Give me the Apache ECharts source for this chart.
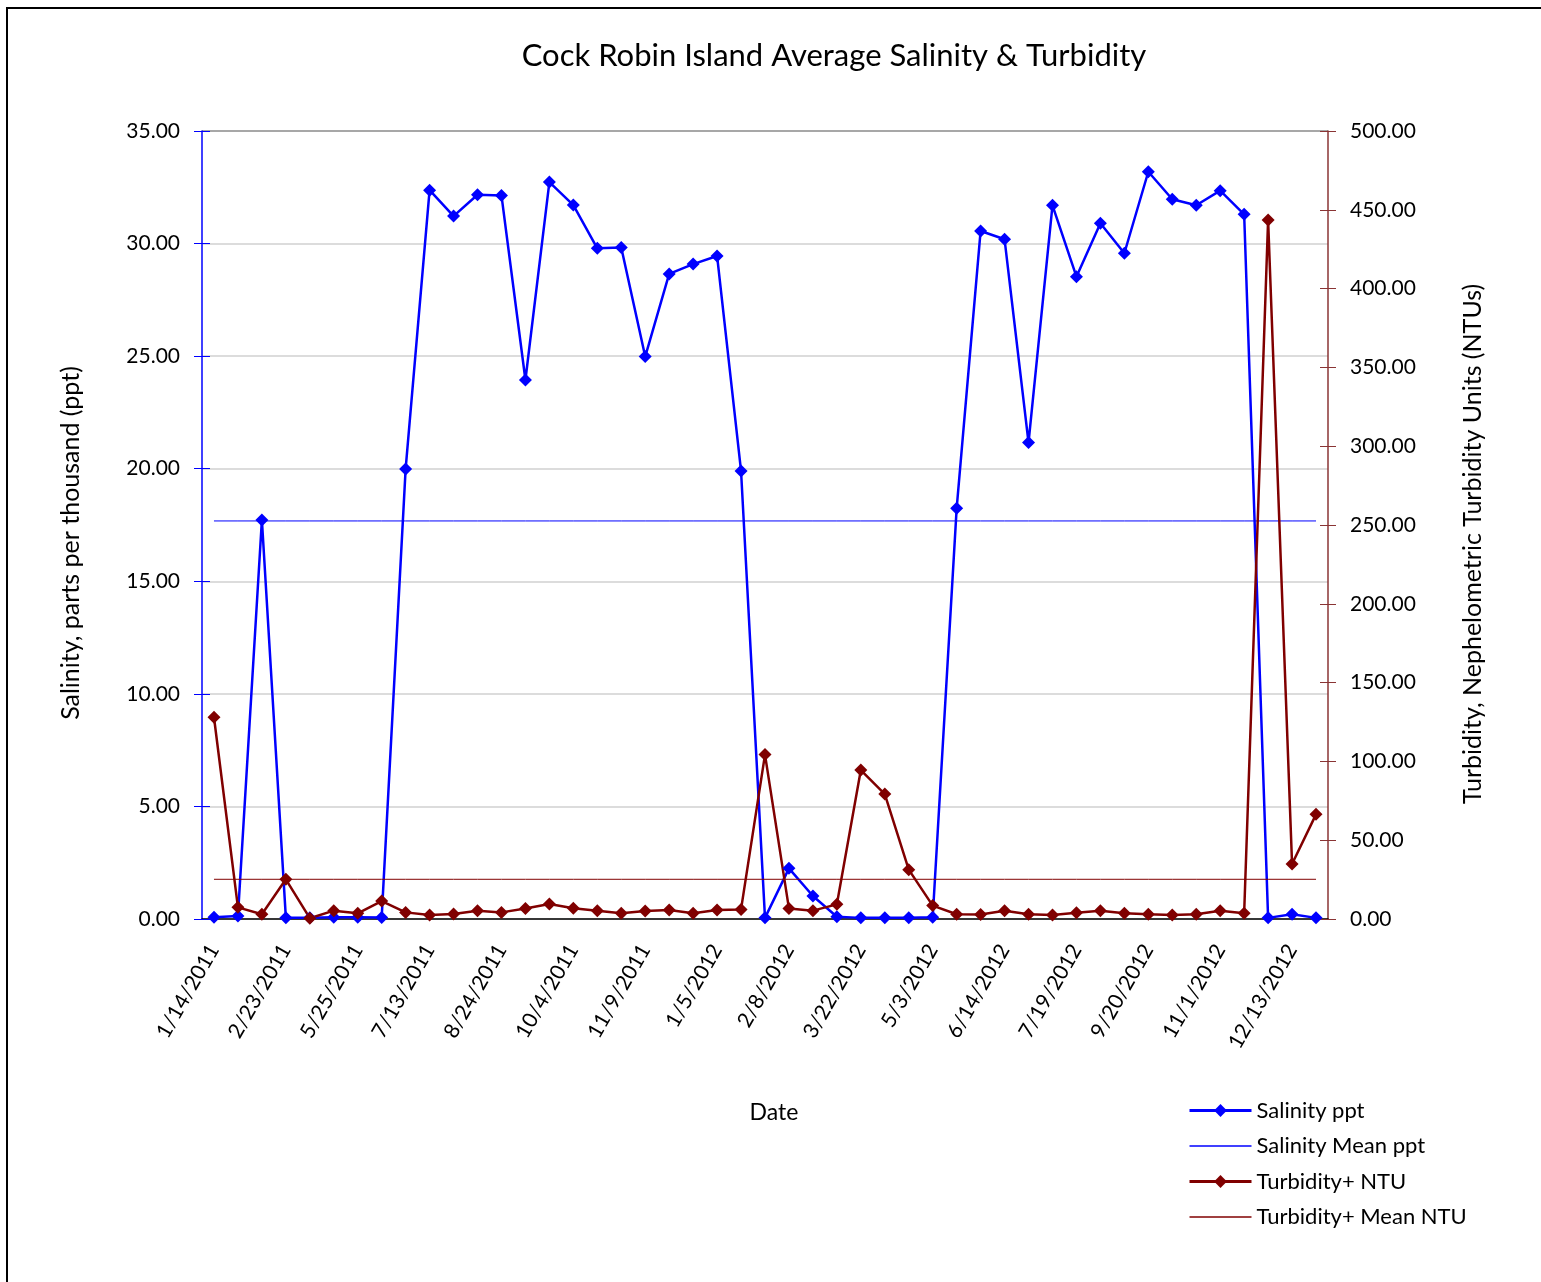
<!DOCTYPE html>
<html>
<head>
<meta charset="utf-8">
<title>Cock Robin Island Average Salinity & Turbidity</title>
<script src="https://cdn.jsdelivr.net/npm/echarts@6/dist/echarts.min.js"></script>
<style>
  html, body { margin: 0; padding: 0; background: #fff; }
  #main { width: 1541px; height: 1282px; }
</style>
</head>
<body>
<div id="main"></div>
<script>
// sampling dates (only every third one is labelled on the axis)
var dates = [
  '1/14/2011', '1/27/2011', '2/9/2011', '2/23/2011', '3/23/2011', '4/20/2011',
  '5/25/2011', '6/8/2011', '6/29/2011', '7/13/2011', '7/27/2011', '8/10/2011',
  '8/24/2011', '9/7/2011', '9/21/2011', '10/4/2011', '10/18/2011', '10/25/2011',
  '11/9/2011', '11/30/2011', '12/14/2011', '1/5/2012', '1/18/2012', '1/25/2012',
  '2/8/2012', '2/22/2012', '3/7/2012', '3/22/2012', '4/5/2012', '4/19/2012',
  '5/3/2012', '5/17/2012', '5/31/2012', '6/14/2012', '6/28/2012', '7/5/2012',
  '7/19/2012', '8/2/2012', '8/23/2012', '9/20/2012', '10/4/2012', '10/18/2012',
  '11/1/2012', '11/15/2012', '11/29/2012', '12/13/2012', '12/27/2012'
];

// salinity, ppt
var salinity = [
  0.08, 0.13, 17.72, 0.06, 0.05, 0.08, 0.08, 0.07, 19.99, 32.37,
  31.22, 32.17, 32.14, 23.94, 32.73, 31.71, 29.79, 29.83, 24.98, 28.65,
  29.09, 29.45, 19.9, 0.05, 2.25, 1.02, 0.1, 0.05, 0.05, 0.05,
  0.08, 18.24, 30.56, 30.19, 21.16, 31.7, 28.53, 30.9, 29.57, 33.19,
  31.97, 31.7, 32.35, 31.3, 0.05, 0.21, 0.05
];

// turbidity, NTU
var turbidity = [
  128, 7.4, 3, 25.2, 0.5, 5.3, 3.6, 11.4, 4.2, 2.5,
  3.2, 5.3, 4.2, 6.6, 9.5, 6.8, 5.3, 3.6, 5.1, 5.7,
  3.6, 5.7, 6.1, 104.3, 6.6, 5.3, 9.3, 94.5, 79.3, 31.3,
  8.5, 3, 2.8, 5.3, 3, 2.5, 4, 5.3, 3.6, 3,
  2.5, 3, 5.3, 3.6, 443.5, 34.9, 66.4
];

var salinityMean = 17.68;
var turbidityMean = 25.2;

var salinityMeanLine = dates.map(function () { return salinityMean; });
var turbidityMeanLine = dates.map(function () { return turbidityMean; });

var fontName = 'Lato, "Open Sans", sans-serif';
var blue = '#0000ff';
var maroon = '#800000';
var rightAxisColor = '#8a3434';

var chart = echarts.init(document.getElementById('main'));

var option = {
  backgroundColor: '#fff',
  textStyle: { fontFamily: fontName },
  title: {
    text: 'Cock Robin Island Average Salinity & Turbidity',
    left: 829,
    top: 35,
    textAlign: 'center',
    textStyle: { fontFamily: fontName, fontSize: 31, fontWeight: 'normal', color: '#000' }
  },
  graphic: [{
    type: 'rect',
    shape: { x: 7, y: 8, width: 1600, height: 1400 },
    style: { fill: null, stroke: '#000', lineWidth: 2 },
    silent: true
  }],
  legend: {
    orient: 'vertical',
    left: 1188,
    top: 1098,
    padding: 0,
    itemWidth: 62,
    itemHeight: 16,
    itemGap: 10.5,
    textStyle: { fontFamily: fontName, fontSize: 22, color: '#000', lineHeight: 25 },
    data: [
      { name: 'Salinity ppt', lineStyle: { width: 3 } },
      { name: 'Salinity Mean ppt', itemStyle: { opacity: 0 }, lineStyle: { width: 1.5 } },
      { name: 'Turbidity+ NTU', lineStyle: { width: 3 } },
      { name: 'Turbidity+ Mean NTU', itemStyle: { opacity: 0 }, lineStyle: { width: 1.5 } }
    ]
  },
  grid: { left: 202, right: 213, top: 131, bottom: 363 },
  xAxis: [{
    type: 'category',
    data: dates,
    boundaryGap: true,
    name: 'Date',
    nameLocation: 'middle',
    nameGap: 182,
    nameTextStyle: { fontFamily: fontName, fontSize: 23, color: '#000', padding: [0, 0, 0, 18] },
    axisLine: { lineStyle: { color: '#000', width: 1.5 } },
    axisTick: { interval: 0, length: 7, lineStyle: { color: '#000' } },
    axisLabel: { interval: 2, rotate: 60, margin: 27, fontSize: 21, color: '#000', fontFamily: fontName },
    splitLine: { show: false }
  }, {
    // inner half of the crossing ticks
    type: 'category',
    data: dates,
    position: 'bottom',
    boundaryGap: true,
    axisLine: { show: false },
    axisTick: { interval: 0, inside: true, length: 7, lineStyle: { color: '#000' } },
    axisLabel: { show: false },
    splitLine: { show: false }
  }],
  yAxis: [{
    type: 'value',
    min: 0,
    max: 35,
    interval: 5,
    position: 'left',
    name: 'Salinity, parts per thousand (ppt)',
    nameLocation: 'middle',
    nameRotate: 90,
    nameGap: 119,
    nameTextStyle: { fontFamily: fontName, fontSize: 25, color: '#000', padding: [0, 36, 0, 0] },
    axisLine: { show: true, lineStyle: { color: blue, width: 1.5 } },
    axisTick: { show: true, length: 8, lineStyle: { color: blue } },
    axisLabel: {
      margin: 22, fontSize: 21, color: '#000', fontFamily: fontName,
      formatter: function (v) { return v.toFixed(2); }
    },
    splitLine: {
      show: true,
      lineStyle: {
        color: ['#d0d0d0', '#d0d0d0', '#d0d0d0', '#d0d0d0', '#d0d0d0', '#d0d0d0', '#d0d0d0', '#8a8a8a'],
        width: 1.5
      }
    }
  }, {
    type: 'value',
    min: 0,
    max: 500,
    interval: 50,
    position: 'right',
    name: 'Turbidity, Nephelometric Turbidity Units (NTUs)',
    nameLocation: 'middle',
    nameRotate: 90,
    nameGap: 132,
    nameTextStyle: { fontFamily: fontName, fontSize: 25, color: '#000', padding: [0, 38, 0, 0] },
    axisLine: { show: true, lineStyle: { color: rightAxisColor, width: 1.5 } },
    axisTick: { show: true, length: 8, lineStyle: { color: rightAxisColor } },
    axisLabel: {
      margin: 22, fontSize: 21, color: '#000', fontFamily: fontName,
      formatter: function (v) { return v.toFixed(2); }
    },
    splitLine: { show: false }
  }, {
    // inner ticks, left
    type: 'value', min: 0, max: 35, interval: 5, position: 'left',
    axisLine: { show: false },
    axisTick: { show: true, inside: true, length: 8, lineStyle: { color: blue } },
    axisLabel: { show: false },
    splitLine: { show: false }
  }, {
    // inner ticks, right
    type: 'value', min: 0, max: 500, interval: 50, position: 'right',
    axisLine: { show: false },
    axisTick: { show: true, inside: true, length: 8, lineStyle: { color: rightAxisColor } },
    axisLabel: { show: false },
    splitLine: { show: false }
  }],
  series: [{
    name: 'Salinity ppt',
    type: 'line',
    yAxisIndex: 0,
    data: salinity,
    symbol: 'diamond',
    symbolSize: 13,
    color: blue,
    lineStyle: { color: blue, width: 2.5 },
    itemStyle: { color: blue },
    animation: false
  }, {
    name: 'Salinity Mean ppt',
    type: 'line',
    yAxisIndex: 0,
    data: salinityMeanLine,
    symbol: 'none',
    color: blue,
    lineStyle: { color: blue, width: 1 },
    animation: false
  }, {
    name: 'Turbidity+ NTU',
    type: 'line',
    yAxisIndex: 1,
    data: turbidity,
    symbol: 'diamond',
    symbolSize: 13,
    color: maroon,
    lineStyle: { color: maroon, width: 2.5 },
    itemStyle: { color: maroon },
    animation: false
  }, {
    name: 'Turbidity+ Mean NTU',
    type: 'line',
    yAxisIndex: 1,
    data: turbidityMeanLine,
    symbol: 'none',
    color: maroon,
    lineStyle: { color: maroon, width: 1 },
    animation: false
  }]
};

chart.setOption(option);
</script>
</body>
</html>
